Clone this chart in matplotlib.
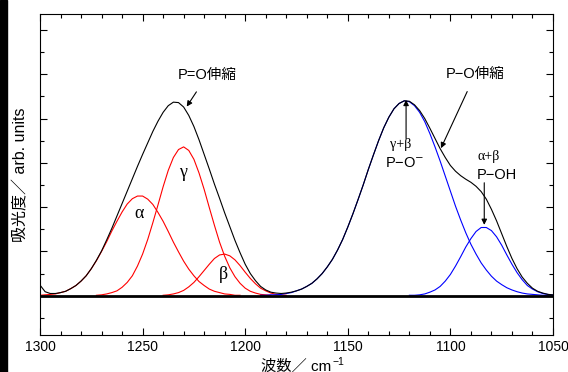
import numpy as np
import matplotlib
matplotlib.use("Agg")
import matplotlib.pyplot as plt
from matplotlib.patches import Rectangle

plt.rcParams['font.family'] = ['Liberation Sans', 'Noto Sans CJK JP', 'DejaVu Sans']

# absorbance, every 2.5 cm-1 from the first wavenumber downwards
step = 2.5
total_start = 1300
total = [0.24, 0.09, 0.05, 0.05, 0.07, 0.10, 0.16, 0.23, 0.33, 0.45, 0.61, 0.80, 1.01, 1.26, 1.52,
         1.80, 2.08, 2.36, 2.64, 2.92, 3.19, 3.45, 3.71, 3.94, 4.14, 4.29, 4.37, 4.36, 4.26, 4.07,
         3.82, 3.52, 3.19, 2.86, 2.52, 2.20, 1.87, 1.56, 1.25, 0.97, 0.71, 0.50, 0.34, 0.21, 0.13,
         0.08, 0.06, 0.05, 0.06, 0.08, 0.11, 0.15, 0.21, 0.28, 0.38, 0.50, 0.65, 0.82, 1.03, 1.27,
         1.55, 1.85, 2.17, 2.50, 2.85, 3.18, 3.50, 3.79, 4.03, 4.22, 4.34, 4.40, 4.39, 4.31, 4.18,
         4.00, 3.78, 3.55, 3.32, 3.12, 2.94, 2.81, 2.71, 2.63, 2.56, 2.47, 2.35, 2.18, 1.95, 1.69,
         1.40, 1.11, 0.84, 0.61, 0.42, 0.28, 0.17, 0.10, 0.06, 0.03, 0.02]

alpha_start = 1300
alpha = [0.01, 0.02, 0.03, 0.04, 0.07, 0.10, 0.16, 0.23, 0.33, 0.45, 0.61, 0.79, 1.00, 1.22, 1.46,
         1.68, 1.89, 2.07, 2.19, 2.25, 2.25, 2.18, 2.06, 1.88, 1.68, 1.45, 1.21, 0.99, 0.78, 0.60,
         0.45, 0.32, 0.23, 0.15, 0.10, 0.07, 0.04, 0.03, 0.01, 0.01]

gamma_start = 1272.5
gamma = [0.01, 0.02, 0.04, 0.07, 0.11, 0.19, 0.30, 0.45, 0.67, 0.94, 1.27, 1.65, 2.05, 2.46, 2.83,
         3.12, 3.30, 3.36, 3.28, 3.08, 2.77, 2.40, 1.99, 1.59, 1.21, 0.89, 0.63, 0.43, 0.28, 0.17,
         0.10, 0.06, 0.03, 0.02, 0.01]

beta_start = 1240
beta = [0.01, 0.02, 0.04, 0.07, 0.12, 0.20, 0.30, 0.43, 0.57, 0.71, 0.84, 0.92, 0.94, 0.90, 0.81,
        0.68, 0.53, 0.39, 0.27, 0.17, 0.11, 0.06, 0.03, 0.02, 0.01]

po_start = 1192.5
po = [0.01, 0.01, 0.02, 0.02, 0.03, 0.05, 0.07, 0.11, 0.15, 0.21, 0.28, 0.38, 0.50, 0.65, 0.82,
      1.03, 1.27, 1.55, 1.85, 2.17, 2.50, 2.85, 3.18, 3.50, 3.79, 4.03, 4.22, 4.34, 4.40, 4.38,
      4.29, 4.14, 3.93, 3.66, 3.36, 3.04, 2.70, 2.36, 2.02, 1.71, 1.42, 1.16, 0.94, 0.74, 0.58,
      0.44, 0.33, 0.25, 0.18, 0.13, 0.09, 0.06, 0.04, 0.03, 0.02, 0.01, 0.01, 0.01]

poh_start = 1120
poh = [0.01, 0.01, 0.02, 0.04, 0.08, 0.13, 0.21, 0.33, 0.48, 0.67, 0.88, 1.10, 1.29, 1.45, 1.54,
       1.54, 1.47, 1.33, 1.14, 0.92, 0.71, 0.52, 0.36, 0.23, 0.15, 0.09, 0.05, 0.03, 0.01]


def wavenumbers(start, values):
    return start - step * np.arange(len(values))


fig = plt.figure(figsize=(5.68, 3.72), dpi=100)
ax = fig.add_axes([40/568, 1-335/372, 513/568, 321/372])
# thick bar down the left edge of the page
fig.patches.append(Rectangle((0, 0), 7/568, 1, transform=fig.transFigure, color='black'))

ax.axhline(0, color='black', lw=2, zorder=3)
for start, vals in ((alpha_start, alpha), (gamma_start, gamma), (beta_start, beta)):
    ax.plot(wavenumbers(start, vals), vals, color='red', lw=0.8)
for start, vals in ((po_start, po), (poh_start, poh)):
    ax.plot(wavenumbers(start, vals), vals, color='blue', lw=0.8)
ax.plot(wavenumbers(total_start, total), total, color='black', lw=0.8)

ax.set_xlim(1300, 1050)
ax.set_ylim(-0.887, 6.36)
ax.set_xticks(np.arange(1300, 1049, -50))
ax.set_xticks(np.arange(1300, 1049, -10), minor=True)
ax.set_yticks(np.arange(0, 7, 1))
ax.set_yticks(np.arange(-0.5, 6.4, 0.5), minor=True)
ax.tick_params(which='both', direction='in', top=True, right=True, labelleft=False, labelsize=10)
ax.tick_params(which='major', length=5, width=0.8)
ax.tick_params(which='minor', length=3, width=0.8)
ax.set_ylabel('吸光度／ arb. units', fontsize=11.5, labelpad=8)
# x label in two pieces: mathtext would drop the CJK glyphs
ax.text(0.5, -0.075, '波数／ cm', transform=ax.transAxes, fontsize=11, ha='center', va='top')
ax.text(0.57, -0.07, '−1', transform=ax.transAxes, fontsize=7.5, ha='left', va='top')

serif = 'Liberation Serif'
ax.text(1251.8, 1.85, 'α', fontsize=13, family=serif, ha='center', va='center')
ax.text(1230.2, 2.78, 'γ', fontsize=13, family=serif, ha='center', va='center')
ax.text(1210.7, 0.49, 'β', fontsize=13, family=serif, ha='center', va='center')

arrow = dict(arrowstyle='-|>', color='black', lw=0.8, mutation_scale=8, shrinkA=6, shrinkB=0)
ax.annotate('P=O伸縮', xy=(1228.5, 4.27), xytext=(1218.4, 4.98), ha='center', va='center',
            fontsize=10.5, arrowprops=arrow)
ax.annotate('P−O伸縮', xy=(1104.6, 3.33), xytext=(1087.9, 5.0), ha='center', va='center',
            fontsize=10.5, arrowprops=arrow)

arrow0 = dict(arrow, shrinkA=0)
ax.text(1124.2, 3.42, 'γ+β', fontsize=10, family=serif, ha='center', va='center')
ax.text(1122.1, 2.97, 'P−O$^{-}$', fontsize=10.5, ha='center', va='center')
ax.annotate('', xy=(1121.6, 4.42), xytext=(1121.6, 3.55), arrowprops=arrow0)
ax.text(1081.5, 3.15, 'α+β', fontsize=10, family=serif, ha='center', va='center')
ax.text(1077.4, 2.72, 'P−OH', fontsize=10.5, ha='center', va='center')
ax.annotate('', xy=(1083.5, 1.60), xytext=(1083.5, 2.55), arrowprops=arrow0)

fig.savefig('out.png', dpi=100)
